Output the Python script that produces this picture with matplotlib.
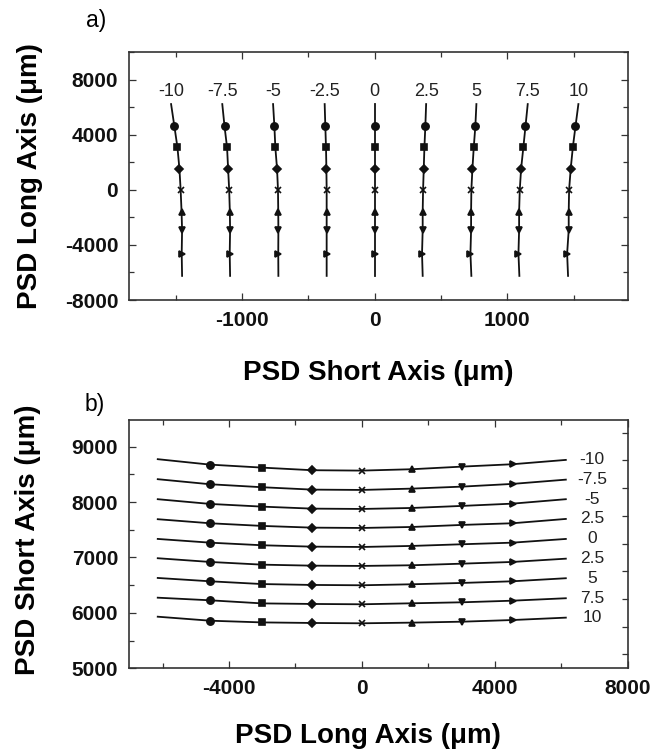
import matplotlib
matplotlib.use('Agg')
import matplotlib.pyplot as plt
from matplotlib.ticker import MultipleLocator

plt.rcParams['font.family'] = ['Liberation Sans', 'DejaVu Sans']
plt.rcParams['axes.unicode_minus'] = False

W, H = 669, 753
DPI = 100

# ---------------- Panel a data ----------------
labels_a = ['-10', '-7.5', '-5', '-2.5', '0', '2.5', '5', '7.5', '10']
# long-axis positions: line top end, 7 marker points, line bottom end
long_pos_a = [6220, 4600, 3080, 1520, 0, -1590, -2920, -4630, -6250]
a_m10 = [-1535, -1510, -1487, -1472, -1463, -1456, -1452, -1455, -1452]
a_m75 = [-1149, -1132, -1113, -1105, -1097, -1092, -1090, -1093, -1090]
a_m5 = [-766, -756, -749, -736, -729, -727, -726, -727, -726]
a_m25 = [-377, -372, -367, -364, -362, -362, -362, -362, -362]
a_0 = [0, 0, 0, 0, 0, 0, 0, 0, 0]
a_p25 = [388, 382, 375, 370, 365, 362, 362, 357, 362]
a_p5 = [767, 759, 747, 737, 729, 727, 727, 722, 729]
a_p75 = [1154, 1137, 1121, 1104, 1094, 1089, 1089, 1084, 1091]
a_p10 = [1536, 1514, 1494, 1478, 1466, 1463, 1463, 1451, 1458]
label_y_a = 7130

# ---------------- Panel b data ----------------
labels_b = ['-10', '-7.5', '-5', '2.5', '0', '2.5', '5', '7.5', '10']
long_pos_b = [-6144, -4574, -3003, -1501, 0, 1513, 3015, 4535, 6138]
b_m10 = [8773, 8675, 8621, 8574, 8567, 8592, 8639, 8682, 8760]
b_m75 = [8412, 8321, 8267, 8224, 8218, 8242, 8278, 8327, 8404]
b_m5 = [8051, 7966, 7917, 7881, 7875, 7893, 7930, 7971, 8051]
b_m25 = [7690, 7617, 7569, 7538, 7532, 7550, 7587, 7617, 7695]
b_0 = [7334, 7267, 7220, 7195, 7189, 7208, 7238, 7267, 7334]
b_p25 = [6986, 6919, 6870, 6852, 6847, 6859, 6888, 6919, 6978]
b_p5 = [6630, 6570, 6520, 6504, 6498, 6516, 6540, 6570, 6625]
b_p75 = [6274, 6227, 6171, 6161, 6155, 6173, 6191, 6220, 6264]
b_p10 = [5931, 5859, 5828, 5818, 5812, 5824, 5841, 5871, 5914]
label_x_b = 6930

series_a = [a_m10, a_m75, a_m5, a_m25, a_0, a_p25, a_p5, a_p75, a_p10]
series_b = [b_m10, b_m75, b_m5, b_m25, b_0, b_p25, b_p5, b_p75, b_p10]

markers = ['o', 's', 'D', 'x', '^', 'v', '>']
msizes = [5.2, 4.8, 3.6, 4.6, 4.4, 4.4, 4.4]

LINE = '#111111'
SPINE = '#333333'
TICKFS = 15
LABELFS = 20


def px_ax(l, t, r, b):
    return [l / W, 1 - b / H, (r - l) / W, (b - t) / H]


fig = plt.figure(figsize=(W / DPI, H / DPI), dpi=DPI)

# ---------------- Panel a ----------------
axa = fig.add_axes(px_ax(129.3, 52, 628, 300))
for xs in series_a:
    axa.plot(xs, long_pos_a, color=LINE, lw=1.3, zorder=2)
for j, (m, ms) in enumerate(zip(markers, msizes)):
    axa.plot([s[j + 1] for s in series_a], [long_pos_a[j + 1]] * len(series_a),
             ls='none', marker=m, ms=ms, color=LINE, mec=LINE, mew=1.2, zorder=3)
for xs, lab in zip(series_a, labels_a):
    axa.text(xs[0], label_y_a, lab, ha='center', va='center', fontsize=13,
             color='#222222')
axa.set_xlim(-1850, 1910)
axa.set_ylim(-8000, 10000)
axa.xaxis.set_major_locator(MultipleLocator(1000))
axa.xaxis.set_minor_locator(MultipleLocator(500))
axa.yaxis.set_major_locator(MultipleLocator(4000))
axa.yaxis.set_minor_locator(MultipleLocator(2000))
axa.set_yticks([-8000, -4000, 0, 4000, 8000])

# ---------------- Panel b ----------------
axb = fig.add_axes(px_ax(129.3, 420, 627.7, 668.3))
for ys in series_b:
    axb.plot(long_pos_b, ys, color=LINE, lw=1.3, zorder=2)
for j, (m, ms) in enumerate(zip(markers, msizes)):
    axb.plot([long_pos_b[j + 1]] * len(series_b), [s[j + 1] for s in series_b],
             ls='none', marker=m, ms=ms, color=LINE, mec=LINE, mew=1.2, zorder=3)
for ys, lab in zip(series_b, labels_b):
    axb.text(label_x_b, ys[-1], lab, ha='center', va='center', fontsize=12.5,
             color='#222222')
axb.set_xlim(-7000, 8000)
axb.set_ylim(5000, 9480)
axb.set_xticks([-4000, 0, 4000, 8000])
axb.xaxis.set_minor_locator(MultipleLocator(2000))
axb.set_yticks([5000, 6000, 7000, 8000, 9000])
axb.yaxis.set_minor_locator(MultipleLocator(500))

for ax in (axa, axb):
    for sp in ax.spines.values():
        sp.set_color(SPINE)
        sp.set_linewidth(1.2)
    ax.tick_params(which='both', direction='in', top=True, right=True,
                   color=SPINE, width=0.9)
    ax.tick_params(which='major', length=5, pad=8)
    ax.tick_params(which='minor', length=3.5)
    for lab in ax.get_xticklabels() + ax.get_yticklabels():
        lab.set_fontweight('bold')
        lab.set_fontsize(TICKFS)
        lab.set_color('#111111')

# panel b right-side ticks are offset from the left ones
axb.tick_params(which='both', right=False)
axb2 = axb.twinx()
axb2.set_ylim(axb.get_ylim())
axb2.set_yticks([5250, 5750, 6250, 6750, 7250, 7750, 8250, 8750, 9250])
axb2.tick_params(axis='y', direction='in', length=4, width=0.9, color=SPINE,
                 labelright=False)
for sp in axb2.spines.values():
    sp.set_visible(False)

# ---------------- labels ----------------
fig.text(96 / W, 1 - 20 / H, 'a)', fontsize=16.5, ha='center', va='center')
fig.text(95 / W, 1 - 404 / H, 'b)', fontsize=16.5, ha='center', va='center')

fig.text(378.7 / W, 1 - 380 / H, 'PSD Short Axis (μm)', fontsize=LABELFS,
         fontweight='bold', ha='center', va='baseline')
fig.text(368 / W, 1 - 743 / H, 'PSD Long Axis (μm)', fontsize=LABELFS,
         fontweight='bold', ha='center', va='baseline')
fig.text(30 / W, 1 - 176 / H, 'PSD Long Axis (μm)', fontsize=LABELFS,
         fontweight='bold', ha='center', va='center', rotation=90)
fig.text(28 / W, 1 - 540 / H, 'PSD Short Axis (μm)', fontsize=LABELFS,
         fontweight='bold', ha='center', va='center', rotation=90)

fig.savefig('out.png', dpi=DPI)
